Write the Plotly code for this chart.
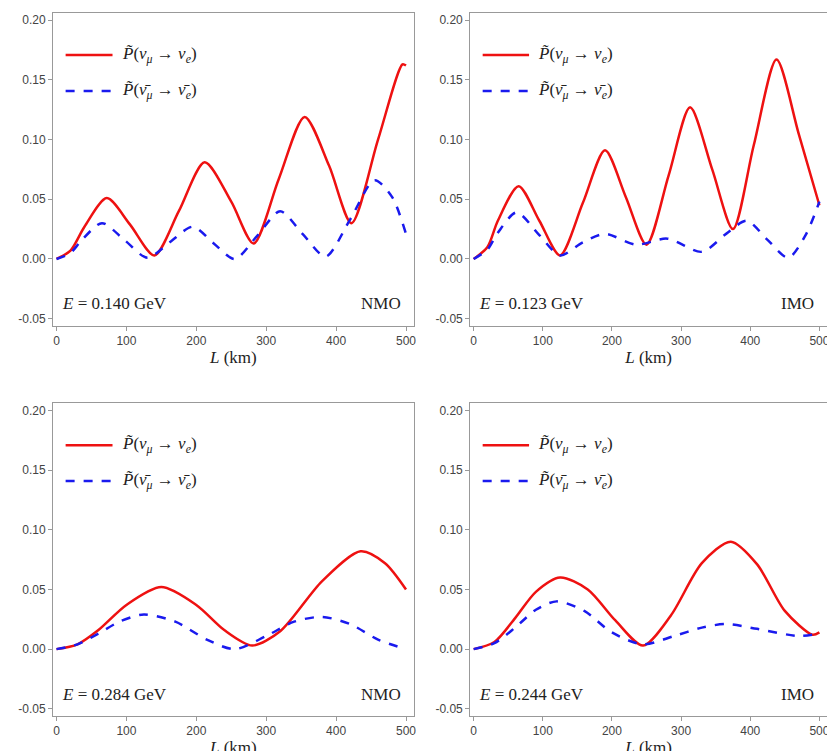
import plotly.graph_objects as go

# panel 1: NMO, E=0.140
L1r = [0, 20, 40, 72, 105, 140, 175, 212, 250, 282, 318, 355, 390, 422, 460, 495, 500]
P1r = [0, 0.007, 0.027, 0.051, 0.029, 0.003, 0.040, 0.081, 0.048, 0.013, 0.067, 0.119, 0.078, 0.030, 0.100, 0.163, 0.162]
L1b = [0, 20, 35, 65, 97, 130, 162, 195, 225, 255, 288, 320, 352, 385, 420, 455, 480, 500]
P1b = [0, 0.005, 0.015, 0.030, 0.016, 0.001, 0.014, 0.027, 0.013, 0.000, 0.020, 0.040, 0.021, 0.002, 0.033, 0.066, 0.052, 0.021]
# panel 2: IMO, E=0.123
L2r = [0, 20, 35, 65, 95, 125, 158, 190, 220, 250, 282, 313, 345, 375, 405, 438, 470, 500]
P2r = [0, 0.010, 0.032, 0.061, 0.032, 0.003, 0.047, 0.091, 0.052, 0.012, 0.070, 0.127, 0.075, 0.025, 0.095, 0.167, 0.105, 0.045]
L2b = [0, 20, 35, 62, 95, 125, 158, 190, 235, 280, 330, 365, 395, 425, 455, 480, 500]
P2b = [0, 0.008, 0.022, 0.039, 0.020, 0.003, 0.014, 0.021, 0.012, 0.017, 0.006, 0.021, 0.032, 0.016, 0.001, 0.020, 0.048]
# panel 3: NMO, E=0.284
L3r = [0, 30, 60, 100, 150, 200, 240, 280, 320, 380, 435, 470, 500]
P3r = [0, 0.004, 0.016, 0.037, 0.052, 0.037, 0.016, 0.003, 0.015, 0.057, 0.082, 0.072, 0.050]
L3b = [0, 30, 60, 90, 125, 170, 215, 255, 300, 340, 380, 420, 460, 500]
P3b = [0, 0.004, 0.013, 0.023, 0.029, 0.023, 0.008, 0.000, 0.011, 0.023, 0.027, 0.021, 0.008, 0.000]
# panel 4: IMO, E=0.244
L4r = [0, 30, 60, 90, 125, 165, 205, 245, 285, 330, 372, 410, 450, 490, 500]
P4r = [0, 0.006, 0.026, 0.048, 0.060, 0.050, 0.024, 0.003, 0.028, 0.072, 0.090, 0.071, 0.032, 0.012, 0.014]
L4b = [0, 30, 60, 90, 120, 160, 200, 245, 290, 330, 365, 410, 470, 500]
P4b = [0, 0.005, 0.018, 0.033, 0.040, 0.032, 0.014, 0.004, 0.011, 0.018, 0.021, 0.017, 0.011, 0.013]

panels = [(L1r, P1r, L1b, P1b, "0.140", "NMO"), (L2r, P2r, L2b, P2b, "0.123", "IMO"),
          (L3r, P3r, L3b, P3b, "0.284", "NMO"), (L4r, P4r, L4b, P4b, "0.244", "IMO")]

xdom = [[0, 0.466], [0.539, 1.0]]
ydom = [[0.555, 1.0], [0, 0.445]]

fig = go.Figure()
for i, (lr, pr, lb, pb, E, order) in enumerate(panels):
    n = i + 1
    xa = "x" if n == 1 else f"x{n}"
    ya = "y" if n == 1 else f"y{n}"
    fig.add_trace(go.Scatter(x=lr, y=pr, mode="lines", line=dict(color="#ee1111", width=2.5, shape="spline", smoothing=0.8),
                             xaxis=xa, yaxis=ya, showlegend=False))
    fig.add_trace(go.Scatter(x=lb, y=pb, mode="lines", line=dict(color="#1a1aee", width=2.5, dash="dash", shape="spline", smoothing=0.8),
                             xaxis=xa, yaxis=ya, showlegend=False))
    r, c = divmod(i, 2)
    axkw = dict(showline=True, mirror=True, linecolor="#999", ticks="outside", tickcolor="#999", ticklen=4,
                showgrid=False, zeroline=False, tickfont=dict(family="Liberation Sans", size=12, color="#444"))
    fig.update_layout(**{
        ("xaxis" if n == 1 else f"xaxis{n}"): dict(domain=xdom[c], range=[-5, 511], tickvals=[0, 100, 200, 300, 400, 500],
            anchor=ya, title=dict(text="<i>L</i> (km)", font=dict(family="Liberation Serif", size=17, color="#222"), standoff=0), **axkw),
        ("yaxis" if n == 1 else f"yaxis{n}"): dict(domain=ydom[r], range=[-0.056, 0.206], tickvals=[-0.05, 0, 0.05, 0.1, 0.15, 0.2],
            ticktext=["-0.05", "0.00", "0.05", "0.10", "0.15", "0.20"], anchor=xa, **axkw),
    })
    xd = f"{xa} domain"; yd = f"{ya} domain"
    yt = 1 - 42 / 313; yb = 1 - 78 / 313
    fig.add_shape(type="line", xref=xd, yref=yd, x0=0.035, x1=0.165, y0=yt, y1=yt, line=dict(color="#ee1111", width=2.5))
    fig.add_shape(type="line", xref=xd, yref=yd, x0=0.035, x1=0.165, y0=yb, y1=yb, line=dict(color="#1a1aee", width=2.5, dash="dash"))
    tf = dict(family="Liberation Serif", size=17, color="#222")
    fig.add_annotation(xref=xd, yref=yd, x=0.185, y=yt, xanchor="left", yanchor="middle", showarrow=False, font=tf,
                       text="<i>P̃</i>(<i>ν</i><sub><i>μ</i></sub> → <i>ν</i><sub><i>e</i></sub>)")
    fig.add_annotation(xref=xd, yref=yd, x=0.185, y=yb, xanchor="left", yanchor="middle", showarrow=False, font=tf,
                       text="<i>P̃</i>(<i>ν̄</i><sub><i>μ</i></sub> → <i>ν̄</i><sub><i>e</i></sub>)")
    fig.add_annotation(xref=xd, yref=yd, x=0.02, y=0.07, xanchor="left", yanchor="middle", showarrow=False, font=tf,
                       text=f"<i>E</i> = {E} GeV")
    fig.add_annotation(xref=xd, yref=yd, x=0.97, y=0.07, xanchor="right", yanchor="middle", showarrow=False, font=tf,
                       text=order)

fig.update_layout(width=835, height=751, margin=dict(l=45, r=16, t=5, b=43),
                  plot_bgcolor="white", paper_bgcolor="white")
fig.write_html("out.html")
